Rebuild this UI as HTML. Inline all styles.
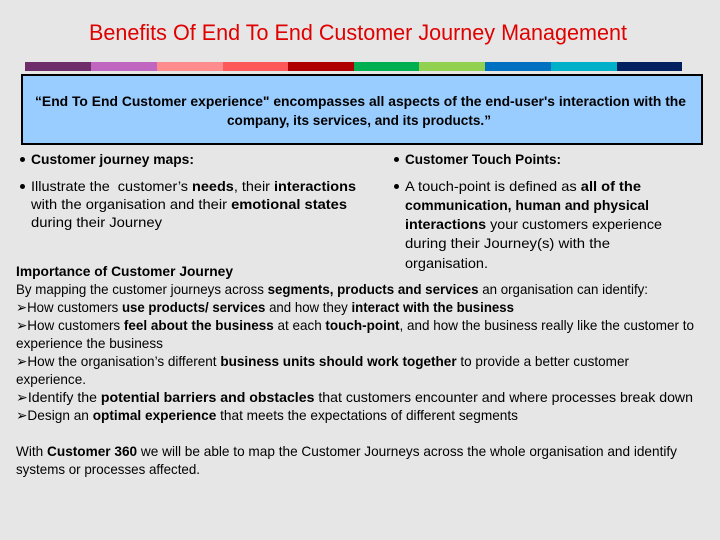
<!DOCTYPE html>
<html><head><meta charset="utf-8">
<style>
body{margin:0;width:720px;height:540px;background:#e6e6e6;position:relative;overflow:hidden;font-family:"Liberation Sans",sans-serif;color:#000}
.l{position:absolute;white-space:nowrap;font-size:14px;line-height:18px;height:18px}
.l span{display:inline-block;transform-origin:0 0}
.bar{position:absolute;top:62px;height:9px;width:66px}
.d{position:absolute;width:5px;height:5px;border-radius:50%;background:#000}
</style></head><body>
<div class="l" style="left:89px;top:19px;width:538px;height:28px;font-size:22px;line-height:28px;color:#e00000"><span>Benefits Of End To End Customer Journey Management</span></div>
<div class="bar" style="left:25px;background:#6f2c6b"></div>
<div class="bar" style="left:91px;background:#c066c0"></div>
<div class="bar" style="left:157px;background:#ff8c8c"></div>
<div class="bar" style="left:223px;background:#ff5858"></div>
<div class="bar" style="left:288px;background:#ae0000"></div>
<div class="bar" style="left:354px;background:#00b050"></div>
<div class="bar" style="left:419px;background:#92d050"></div>
<div class="bar" style="left:485px;background:#0070c0"></div>
<div class="bar" style="left:551px;background:#00b0c8"></div>
<div class="bar" style="left:617px;width:65px;background:#002060"></div>
<div style="position:absolute;left:21px;top:74px;width:678px;height:67px;background:#99ccff;border:2px solid #000"></div>
<div class="l" style="left:35px;top:92px;width:651px;font-weight:bold"><span>“End To End Customer experience" encompasses all aspects of the end-user's interaction with the</span></div>
<div class="l" style="left:227px;top:111px;width:264px;font-weight:bold"><span>company, its services, and its products.”</span></div>

<div class="d" style="left:20px;top:157px"></div>
<div class="d" style="left:20px;top:184px"></div>
<div class="l" style="left:31px;top:150px;width:163px;font-weight:bold"><span>Customer journey maps:</span></div>
<div class="l" style="left:31px;top:177px;width:325px"><span>Illustrate the&nbsp; customer’s <b>needs</b>, their <b>interactions</b></span></div>
<div class="l" style="left:31px;top:195px;width:316px"><span>with the organisation and their <b>emotional states</b></span></div>
<div class="l" style="left:31px;top:213px;width:131px"><span>during their Journey</span></div>

<div class="d" style="left:394px;top:157px"></div>
<div class="d" style="left:394px;top:184px"></div>
<div class="l" style="left:405px;top:150px;width:156px;font-weight:bold"><span>Customer Touch Points:</span></div>
<div class="l" style="left:405px;top:177px;width:236px"><span>A touch-point is defined as <b>all of the</b></span></div>
<div class="l" style="left:405px;top:196px;width:244px;font-weight:bold"><span>communication, human and physical</span></div>
<div class="l" style="left:405px;top:215px;width:257px"><span><b>interactions</b> your customers experience</span></div>
<div class="l" style="left:405px;top:234px;width:205px"><span>during their Journey(s) with the</span></div>
<div class="l" style="left:405px;top:254px;width:83px"><span>organisation.</span></div>

<div class="l" style="left:16px;top:262px;width:217px;font-weight:bold"><span>Importance of Customer Journey</span></div>
<div class="l" style="left:16px;top:280px;width:632px"><span>By mapping the customer journeys across <b>segments, products and services</b> an organisation can identify:</span></div>
<div class="l" style="left:16px;top:298px;width:498px"><span>➢How customers <b>use products/ services</b> and how they <b>interact with the business</b></span></div>
<div class="l" style="left:16px;top:316px;width:678px"><span>➢How customers <b>feel about the business</b> at each <b>touch-point</b>, and how the business really like the customer to</span></div>
<div class="l" style="left:16px;top:334px;width:147px"><span>experience the business</span></div>
<div class="l" style="left:16px;top:352px;width:613px"><span>➢How the organisation’s different <b>business units should work together</b> to provide a better customer</span></div>
<div class="l" style="left:16px;top:370px;width:70px"><span>experience.</span></div>
<div class="l" style="left:16px;top:388px;width:677px"><span>➢Identify the <b>potential barriers and obstacles</b> that customers encounter and where processes break down</span></div>
<div class="l" style="left:16px;top:406px;width:502px"><span>➢Design an <b>optimal experience</b> that meets the expectations of different segments</span></div>
<div class="l" style="left:16px;top:442px;width:661px"><span>With <b>Customer 360</b> we will be able to map the Customer Journeys across the whole organisation and identify</span></div>
<div class="l" style="left:16px;top:460px;width:184px"><span>systems or processes affected.</span></div>
<script>
document.querySelectorAll('.l').forEach(function(d){
  var s=d.firstElementChild, w=parseFloat(d.style.width);
  var n=s.getBoundingClientRect().width;
  if(n>0) s.style.transform='scaleX('+(w/n)+')';
});
</script>
</body></html>
